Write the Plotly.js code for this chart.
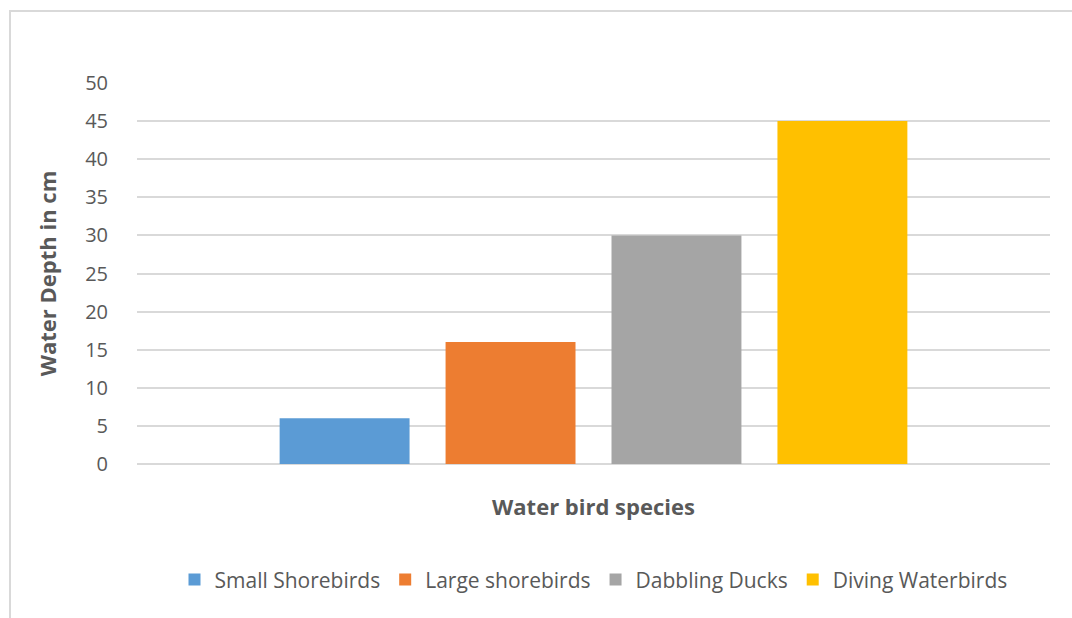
<!DOCTYPE html>
<html>
<head>
<meta charset="utf-8">
<script src="https://cdn.plot.ly/plotly-3.0.1.min.js"></script>
<style>
  html, body { margin: 0; padding: 0; background: #fff; }
  #wrap { position: relative; width: 1072px; height: 618px; overflow: hidden; }
  #frame { position: absolute; left: 9px; top: 10px; width: 1070px; height: 620px; border: 2px solid #d9d9d9; box-sizing: border-box; pointer-events: none; }
  #chart { position: absolute; left: 0; top: 0; width: 1072px; height: 618px; }
</style>
</head>
<body>
<div id="wrap">
  <div id="chart"></div>
  <div id="frame"></div>
</div>
<script>
const category = ['Water bird species'];
const seriesNames = ['Small Shorebirds', 'Large shorebirds', 'Dabbling Ducks', 'Diving Waterbirds'];
const seriesValues = [6, 16, 30, 45];
const seriesColors = ['#5b9bd5', '#ed7d31', '#a5a5a5', '#ffc000'];
const yTicks = [0, 5, 10, 15, 20, 25, 30, 35, 40, 45, 50];

const FONT = '"Open Sans", Lato, "Liberation Sans", sans-serif';

const traces = seriesNames.map((name, i) => ({
  type: 'bar',
  name: name,
  x: category,
  y: [seriesValues[i]],
  marker: { color: seriesColors[i], line: { width: 0 } },
  hoverinfo: 'name+y'
}));

const layout = {
  width: 1072,
  height: 618,
  margin: { l: 137, r: 22, t: 83, b: 154 },
  paper_bgcolor: 'rgba(0,0,0,0)',
  plot_bgcolor: '#ffffff',
  font: { family: FONT, color: '#595959', size: 20 },
  barmode: 'group',
  bargap: 0.273,
  bargroupgap: 0.217,
  showlegend: true,
  legend: {
    orientation: 'h',
    x: 0.5, xanchor: 'center',
    y: -0.304, yanchor: 'middle',
    font: { family: FONT, size: 21, color: '#595959' },
    itemwidth: 30,
    traceorder: 'normal'
  },
  xaxis: {
    type: 'category',
    showticklabels: false,
    showgrid: false,
    zeroline: false,
    showline: false,
    ticks: '',
    title: { text: '<b>Water bird species</b>', font: { family: FONT, size: 22, color: '#595959' }, standoff: 35 }
  },
  yaxis: {
    range: [0, 50],
    tickvals: yTicks,
    ticktext: yTicks.map(String),
    showgrid: true,
    gridcolor: '#d9d9d9',
    gridwidth: 2,
    zeroline: true,
    zerolinecolor: '#d9d9d9',
    zerolinewidth: 2,
    showline: false,
    ticks: 'outside',
    ticklen: 24,
    tickcolor: 'rgba(0,0,0,0)',
    tickfont: { family: FONT, size: 20, color: '#595959' },
    title: { text: '<b>Water Depth in cm</b>', font: { family: FONT, size: 22, color: '#595959' }, standoff: 22 }
  }
};

Plotly.newPlot('chart', traces, layout, { displayModeBar: false, staticPlot: true });
</script>
</body>
</html>
